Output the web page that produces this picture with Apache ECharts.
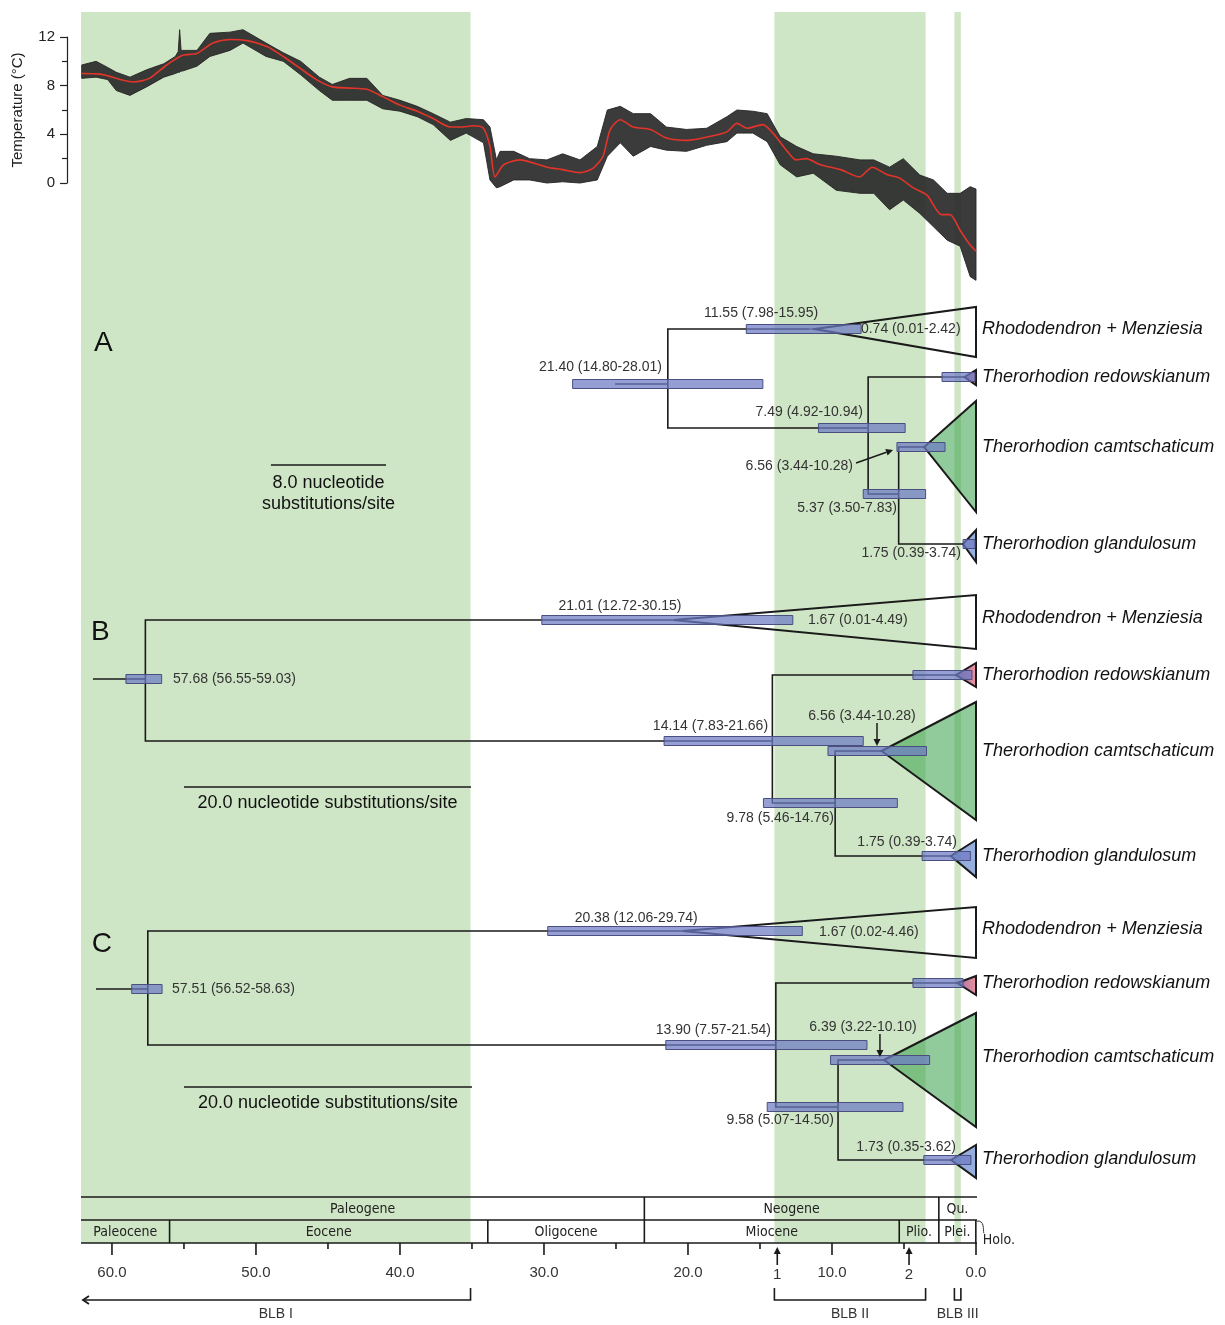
<!DOCTYPE html>
<html><head><meta charset="utf-8">
<script src="https://cdn.jsdelivr.net/npm/echarts@6/dist/echarts.min.js"></script>
<style>html,body{margin:0;padding:0;background:#fff}#c{width:1225px;height:1325px}</style>
</head><body><div id="c"></div>
<script>
// ---------------- DATA ----------------
const X_MAX = 62.15; // oldest age shown at left edge (Ma)

// temperature record: smoothed curve (red)
const tempAge = [62.1,60.8,58.5,57.4,56.2,55.1,54.1,53.0,51.8,50.6,49.2,48.1,46.9,45.8,44.7,43.5,42.3,41.2,40.0,38.8,37.7,36.5,35.8,34.9,34.2,33.75,33.4,32.8,31.7,29.8,28.7,27.5,26.6,25.9,25.4,24.7,23.8,22.6,21.5,20.1,18.2,17.3,16.6,15.9,14.8,14.1,13.1,12.5,11.8,10.8,9.4,8.1,7.2,6.2,5.3,4.35,3.4,2.4,1.8,1.1,0.4,0.0];
const tempVal = [9.0,8.95,8.3,8.6,9.7,10.5,10.65,11.5,11.8,11.7,11.2,10.4,9.4,8.5,7.9,7.8,7.7,7.1,6.4,5.9,5.3,4.6,4.6,4.7,4.5,3.0,0.5,1.5,1.9,1.3,1.1,0.85,1.2,2.2,4.4,5.2,4.6,4.4,3.7,3.5,3.9,4.2,4.9,4.5,4.8,4.1,2.6,1.9,2.0,1.5,1.1,0.5,1.3,0.7,0.4,-0.4,-1.0,-2.6,-2.6,-3.9,-5.1,-5.6];
// temperature record: spread of raw data points (black)
const envAge  = [62.1,61.1,60.3,59.7,58.75,57.6,56.4,55.6,55.4,55.3,55.2,55.1,54.1,53.2,51.8,50.9,49.3,48.1,46.9,45.6,44.7,43.5,42.3,41.2,40.0,38.8,37.7,36.5,35.4,34.2,33.75,33.3,33.05,32.1,31.0,29.8,28.7,27.5,26.3,25.6,24.7,23.8,22.6,21.5,20.1,18.7,17.3,16.6,15.5,14.5,13.6,12.45,11.3,9.7,8.05,7.1,6.0,5.05,3.9,2.95,2.0,1.1,0.4,0.0];
const envHigh = [9.7,10.0,9.5,9.1,8.7,9.3,9.8,10.4,10.8,12.6,10.9,10.9,10.9,12.3,12.4,12.6,11.5,10.7,10.0,8.7,8.1,8.6,8.6,7.2,6.8,6.3,5.7,5.0,5.3,5.2,4.6,1.9,2.6,2.6,2.0,1.9,2.4,1.9,3.0,6.0,6.3,5.7,5.7,4.6,4.4,4.5,5.45,6.0,5.9,5.7,3.8,3.0,2.4,2.2,1.9,1.9,1.3,2.0,0.65,0.25,-0.85,-0.85,-0.3,-0.5];
const envLow  = [8.6,8.7,8.5,7.6,7.2,7.9,8.7,9.0,9.1,9.1,9.2,9.2,9.6,10.4,10.9,11.5,10.4,10.0,8.9,7.6,6.8,6.8,6.8,6.1,5.9,5.45,4.8,3.5,4.1,3.3,0.25,-0.4,-0.3,0.25,0.25,0.0,0.1,0.0,0.25,2.2,3.3,2.2,3.0,2.7,2.6,3.1,3.4,4.1,4.1,3.4,1.5,0.5,0.8,-0.6,-0.85,-0.85,-2.2,-1.4,-2.5,-3.6,-4.7,-5.2,-7.7,-8.0];

// shaded intervals (BLB I, II, III)
const bandOld   = [62.15, 14.0, 1.5];
const bandYoung = [35.1, 3.5, 1.05];
const blbNames  = ['BLB I', 'BLB II', 'BLB III'];

const tipNames = ['Rhododendron + Menziesia', 'Therorhodion redowskianum', 'Therorhodion camtschaticum', 'Therorhodion glandulosum'];

// ---- Panel A ----
const A_nodeAge    = [25.07, 21.40, 11.55, 7.49, 0.80, 5.37, 3.60, 0.90];
const A_nodeRow    = [9.4, 9.4, 3.9, 13.8, 8.7, 20.4, 15.7, 25.4];
const A_nodeParent = [-1, 0, 1, 1, 3, 3, 5, 5];
const A_barLo  = [14.80, 7.98, 4.92, 3.50, 2.15, 0.07, 0.07];
const A_barHi  = [28.01, 15.95, 10.94, 7.83, 5.49, 2.36, 0.90];
const A_barRow = [9.4, 3.9, 13.8, 20.4, 15.7, 8.7, 25.4];
const A_apexAge = [11.2, 0.80, 3.60, 0.90];
const A_apexRow = [3.9, 8.7, 15.7, 25.4];
const A_cladeTop = [1.7, 8.0, 11.1, 24.0];
const A_cladeBot = [6.7, 9.5, 22.2, 27.2];
const A_tipRow = [3.9, 8.7, 15.7, 25.4];
const A_labelText  = ['11.55 (7.98-15.95)', '0.74 (0.01-2.42)', '21.40 (14.80-28.01)', '7.49 (4.92-10.94)', '6.56 (3.44-10.28)', '5.37 (3.50-7.83)', '1.75 (0.39-3.74)'];
const A_labelAge   = [14.93, 7.99, 21.81, 7.85, 8.54, 5.49, 1.04];
const A_labelRow   = [2.3, 3.9, 7.7, 12.2, 17.6, 21.8, 26.3];
const A_labelAlign = ['center', 'left', 'right', 'right', 'right', 'right', 'right'];
const A_arrow = [[8.33, 17.3, 5.76, 16.0]];
const A_scale = [48.96, 40.97, 17.5];
const A_scaleText = ['8.0 nucleotide', 'substitutions/site'];
const A_scaleTextRow = [19.3, 21.4];

// ---- Panel B ----
const B_nodeAge    = [61.32, 57.68, 21.01, 14.14, 1.39, 9.78, 6.56, 1.75];
const B_nodeRow    = [9.9, 9.9, 4.0, 16.1, 9.5, 22.3, 17.1, 27.6];
const B_nodeParent = [-1, 0, 1, 1, 3, 3, 5, 5];
const B_barLo  = [56.55, 12.72, 7.83, 5.46, 3.44, 0.39, 0.28];
const B_barHi  = [59.03, 30.15, 21.66, 14.76, 10.28, 3.74, 4.38];
const B_barRow = [9.9, 4.0, 16.1, 22.3, 17.1, 27.6, 9.5];
const B_apexAge = [21.01, 1.39, 6.56, 1.75];
const B_apexRow = [4.0, 9.5, 17.1, 27.6];
const B_cladeTop = [1.5, 8.3, 12.2, 26.0];
const B_cladeBot = [6.9, 10.7, 24.0, 29.7];
const B_tipRow = [3.8, 9.5, 17.1, 27.6];
const B_labelText  = ['21.01 (12.72-30.15)', '1.67 (0.01-4.49)', '57.68 (56.55-59.03)', '14.14 (7.83-21.66)', '6.56 (3.44-10.28)', '9.78 (5.46-14.76)', '1.75 (0.39-3.74)'];
const B_labelAge   = [24.72, 11.67, 55.76, 14.44, 7.92, 9.86, 1.32];
const B_labelRow   = [2.6, 4.0, 9.9, 14.6, 13.6, 23.8, 26.2];
const B_labelAlign = ['center', 'left', 'left', 'right', 'center', 'right', 'right'];
const B_arrow = [[6.875, 14.3, 6.875, 16.6]];
const B_scale = [55.0, 35.07, 20.7];
const B_scaleText = ['20.0 nucleotide substitutions/site'];
const B_scaleTextRow = [22.3];

// ---- Panel C ----
const C_nodeAge    = [61.11, 57.51, 20.38, 13.90, 1.30, 9.58, 6.39, 1.73];
const C_nodeRow    = [9.9, 9.9, 4.1, 15.5, 9.3, 21.7, 17.0, 27.0];
const C_nodeParent = [-1, 0, 1, 1, 3, 3, 5, 5];
const C_barLo  = [56.52, 12.06, 7.57, 5.07, 3.22, 0.35, 0.90];
const C_barHi  = [58.63, 29.74, 21.54, 14.50, 10.10, 3.62, 4.38];
const C_barRow = [9.9, 4.1, 15.5, 21.7, 17.0, 27.0, 9.3];
const C_apexAge = [20.38, 1.30, 6.39, 1.73];
const C_apexRow = [4.1, 9.3, 17.0, 27.0];
const C_cladeTop = [1.7, 8.6, 12.3, 25.5];
const C_cladeBot = [6.8, 10.5, 23.7, 28.8];
const C_tipRow = [3.9, 9.3, 16.7, 26.9];
const C_labelText  = ['20.38 (12.06-29.74)', '1.67 (0.02-4.46)', '57.51 (56.52-58.63)', '13.90 (7.57-21.54)', '6.39 (3.22-10.10)', '9.58 (5.07-14.50)', '1.73 (0.35-3.62)'];
const C_labelAge   = [23.6, 10.9, 55.83, 14.24, 7.85, 9.86, 1.39];
const C_labelRow   = [2.8, 4.2, 9.9, 14.0, 13.7, 23.0, 25.7];
const C_labelAlign = ['center', 'left', 'left', 'right', 'center', 'right', 'right'];
const C_arrow = [[6.67, 14.4, 6.67, 16.7]];
const C_scale = [55.0, 35.0, 19.7];
const C_scaleText = ['20.0 nucleotide substitutions/site'];
const C_scaleTextRow = [21.3];

const panelLetters = ['A', 'B', 'C'];
const panelLetterAge = [60.6, 60.8, 60.7];
const panelLetterRow = [5.3, 5.2, 5.4];

// geological time scale
const periodName  = ['Paleogene', 'Neogene', 'Qu.'];
const periodOld   = [66.0, 23.03, 2.58];
const periodYoung = [23.03, 2.58, 0.0];
const epochName  = ['Paleocene', 'Eocene', 'Oligocene', 'Miocene', 'Plio.', 'Plei.', 'Holo.'];
const epochOld   = [66.0, 56.0, 33.9, 23.03, 5.33, 2.58, 0.0117];
const epochYoung = [56.0, 33.9, 23.03, 5.33, 2.58, 0.0117, 0.0];
const majorTicks = [0, 10, 20, 30, 40, 50, 60];
const minorTicks = [5, 15, 25, 35, 45, 55];
const markerAge  = [13.8, 4.65];
const markerText = ['1', '2'];

// ---------------- STYLE ----------------
const SANS = '"Liberation Sans", Arial, sans-serif';
const NARROW = '"Liberation Sans Narrow", "DejaVu Sans Condensed", "Liberation Sans", sans-serif';
const BAND = '#cfe6c6';
const LINE = '#1a1a1a';
const BAR_FILL = 'rgba(108,122,196,0.72)';
const BAR_STROKE = '#4a4f80';
const cladeFill = [
  'rgba(0,0,0,0)',
  {type:'linear', x:0, y:0, x2:1, y2:0, colorStops:[{offset:0,color:'#9a6aa2'},{offset:1,color:'#ee95a0'}]},
  'rgba(56,160,72,0.55)',
  'rgba(80,120,200,0.6)'
];

// ---------------- BUILD ----------------
const L = 81, R = 1225 - 976;
const grids = [
  {left:L, right:R, top:37, height:146},   // 0 temperature
  {left:L, right:R, top:12, height:1231},  // 1 bands
  {left:L, right:R, top:290, height:290},  // 2 panel A
  {left:L, right:R, top:580, height:300},  // 3 panel B
  {left:L, right:R, top:890, height:300},  // 4 panel C
  {left:L, right:R, top:1197, height:46},  // 5 geologic scale
  {left:L, right:R, top:1243, height:82}   // 6 annotations
];
const yRanges = [[0,12],[0,1],[0,29],[0,30],[0,30],[0,2],[0,8.2]];

const xAxes = grids.map((g, i) => ({
  gridIndex: i, type: 'value', min: 0, max: X_MAX, inverse: true,
  show: i === 5,
  axisLine: {show:false}, axisTick: {show:false}, splitLine: {show:false},
  axisLabel: {
    show: i === 5, margin: 22, fontSize: 15, color: '#333', fontFamily: SANS,
    showMaxLabel: false,
    formatter: v => (Math.abs(v % 10) < 1e-6 ? v.toFixed(1) : '')
  }
}));
const yAxes = grids.map((g, i) => {
  if (i === 0) {
    return {
      gridIndex: 0, type: 'value', min: 0, max: 12, interval: 4, position: 'left', offset: 14,
      axisLine: {show: true, onZero: false, lineStyle: {color: '#222', width: 1.2}},
      axisTick: {show: true, length: 7, lineStyle: {color: '#222', width: 1.2}},
      minorTick: {show: true, splitNumber: 2, length: 5, lineStyle: {color: '#222', width: 1.2}},
      splitLine: {show: false},
      axisLabel: {fontSize: 15, color: '#222', margin: 12, fontFamily: SANS},
      name: 'Temperature (°C)', nameLocation: 'middle', nameRotate: 90, nameGap: 42,
      nameTextStyle: {fontSize: 15, color: '#222', fontFamily: SANS}
    };
  }
  return {gridIndex: i, type: 'value', min: yRanges[i][0], max: yRanges[i][1],
          inverse: i !== 1, show: false, splitLine: {show: false}};
});

function base(gi, z) {
  return {type: 'custom', coordinateSystem: 'cartesian2d', xAxisIndex: gi, yAxisIndex: gi,
          silent: true, clip: false, z: z, animation: false};
}
function txt(x, y, text, font, align, color) {
  return {type: 'text', x: x, y: y, style: {text: text, font: font, fill: color || '#333',
          align: align, verticalAlign: 'middle', textAlign: align, textVerticalAlign: 'middle'}};
}

const series = [];

// bands
series.push(Object.assign(base(1, 0), {
  data: bandOld.map((o, i) => [o, bandYoung[i]]),
  renderItem: (p, api) => {
    const a = api.coord([api.value(0), 1]), b = api.coord([api.value(1), 0]);
    return {type: 'rect', shape: {x: a[0], y: a[1], width: b[0] - a[0], height: b[1] - a[1]},
            style: {fill: BAND}};
  }
}));

// temperature spread
series.push(Object.assign(base(0, 2), {
  data: envAge.map((a, i) => [a, envHigh[i], envLow[i]]),
  renderItem: (p, api) => {
    if (p.dataIndex !== 0) return null;
    const pts = [];
    for (let i = 0; i < envAge.length; i++) pts.push(api.coord([envAge[i], envHigh[i]]));
    for (let i = envAge.length - 1; i >= 0; i--) pts.push(api.coord([envAge[i], envLow[i]]));
    return {type: 'polygon', shape: {points: pts},
            style: {fill: 'rgba(38,38,38,0.9)', stroke: 'rgba(38,38,38,0.9)', lineWidth: 1, lineJoin: 'round'}};
  }
}));
// temperature smooth curve
series.push({
  type: 'line', xAxisIndex: 0, yAxisIndex: 0, z: 3, clip: false, silent: true, animation: false,
  smooth: 0.25, showSymbol: false, symbol: 'none',
  data: tempAge.map((a, i) => [a, tempVal[i]]),
  lineStyle: {color: '#e3342a', width: 1.6}
});

// tree panels
function panel(gi, P, idx) {
  series.push(Object.assign(base(gi, 3), {
    data: P.apexAge.map((a, i) => [a, P.apexRow[i], P.top[i], P.bot[i], i]),
    renderItem: (p, api) => {
      const i = p.dataIndex;
      const a = api.coord([api.value(0), api.value(1)]);
      const t = api.coord([0, api.value(2)]), b = api.coord([0, api.value(3)]);
      return {type: 'polygon', shape: {points: [a, t, b]},
              style: {fill: cladeFill[i], stroke: LINE, lineWidth: 2, lineJoin: 'miter'}};
    }
  }));
  const edges = [];
  P.nodeAge.forEach((a, i) => {
    const q = P.parent[i];
    if (q >= 0) edges.push([a, P.nodeRow[i], P.nodeAge[q], P.nodeRow[q]]);
  });
  series.push(Object.assign(base(gi, 4), {
    data: edges,
    renderItem: (p, api) => {
      const c = api.value(0), cr = api.value(1), pa = api.value(2), pr = api.value(3);
      return {type: 'polyline', shape: {points: [api.coord([pa, pr]), api.coord([pa, cr]), api.coord([c, cr])]},
              style: {stroke: LINE, lineWidth: 1.6, fill: null}};
    }
  }));
  series.push(Object.assign(base(gi, 5), {
    data: P.barLo.map((lo, i) => [lo, P.barHi[i], P.barRow[i]]),
    renderItem: (p, api) => {
      const a = api.coord([api.value(1), api.value(2)]), b = api.coord([api.value(0), api.value(2)]);
      return {type: 'rect', shape: {x: a[0], y: a[1] - 4.5, width: b[0] - a[0], height: 9},
              style: {fill: BAR_FILL, stroke: BAR_STROKE, lineWidth: 1}};
    }
  }));
  series.push(Object.assign(base(gi, 6), {
    data: P.labelAge.map((a, i) => [a, P.labelRow[i]]),
    renderItem: (p, api) => {
      const c = api.coord([api.value(0), api.value(1)]);
      return txt(c[0], c[1], P.labelText[p.dataIndex], '14px ' + SANS, P.labelAlign[p.dataIndex], '#333');
    }
  }));
  series.push(Object.assign(base(gi, 6), {
    data: P.tipRow.map(r => [-0.42, r]),
    renderItem: (p, api) => {
      const c = api.coord([api.value(0), api.value(1)]);
      return txt(c[0], c[1], tipNames[p.dataIndex], 'italic 18px ' + SANS, 'left', '#111');
    }
  }));
  series.push(Object.assign(base(gi, 6), {
    data: P.arrow,
    renderItem: (p, api) => {
      const a = api.coord([api.value(0), api.value(1)]), b = api.coord([api.value(2), api.value(3)]);
      const dx = b[0] - a[0], dy = b[1] - a[1], len = Math.hypot(dx, dy);
      const ux = dx / len, uy = dy / len, h = 7, w = 3.5;
      const base0 = [b[0] - ux * h, b[1] - uy * h];
      return {type: 'group', children: [
        {type: 'line', shape: {x1: a[0], y1: a[1], x2: base0[0], y2: base0[1]}, style: {stroke: LINE, lineWidth: 1.5}},
        {type: 'polygon', shape: {points: [b, [base0[0] - uy * w, base0[1] + ux * w], [base0[0] + uy * w, base0[1] - ux * w]]},
         style: {fill: LINE}}
      ]};
    }
  }));
  series.push(Object.assign(base(gi, 6), {
    data: [P.scale],
    renderItem: (p, api) => {
      const a = api.coord([api.value(0), api.value(2)]), b = api.coord([api.value(1), api.value(2)]);
      const cx = (a[0] + b[0]) / 2;
      const kids = [{type: 'line', shape: {x1: a[0], y1: a[1], x2: b[0], y2: b[1]}, style: {stroke: LINE, lineWidth: 1.6}}];
      P.scaleText.forEach((t, k) => {
        const yy = api.coord([0, P.scaleTextRow[k]])[1];
        kids.push(txt(cx, yy, t, '18px ' + SANS, 'center', '#111'));
      });
      return {type: 'group', children: kids};
    }
  }));
  series.push(Object.assign(base(gi, 6), {
    data: [[panelLetterAge[idx], panelLetterRow[idx]]],
    renderItem: (p, api) => {
      const c = api.coord([api.value(0), api.value(1)]);
      return txt(c[0], c[1], panelLetters[idx], '28px ' + SANS, 'center', '#111');
    }
  }));
}

panel(2, {nodeAge: A_nodeAge, nodeRow: A_nodeRow, parent: A_nodeParent, barLo: A_barLo, barHi: A_barHi, barRow: A_barRow,
  apexAge: A_apexAge, apexRow: A_apexRow, top: A_cladeTop, bot: A_cladeBot, tipRow: A_tipRow,
  labelText: A_labelText, labelAge: A_labelAge, labelRow: A_labelRow, labelAlign: A_labelAlign,
  arrow: A_arrow, scale: A_scale, scaleText: A_scaleText, scaleTextRow: A_scaleTextRow}, 0);
panel(3, {nodeAge: B_nodeAge, nodeRow: B_nodeRow, parent: B_nodeParent, barLo: B_barLo, barHi: B_barHi, barRow: B_barRow,
  apexAge: B_apexAge, apexRow: B_apexRow, top: B_cladeTop, bot: B_cladeBot, tipRow: B_tipRow,
  labelText: B_labelText, labelAge: B_labelAge, labelRow: B_labelRow, labelAlign: B_labelAlign,
  arrow: B_arrow, scale: B_scale, scaleText: B_scaleText, scaleTextRow: B_scaleTextRow}, 1);
panel(4, {nodeAge: C_nodeAge, nodeRow: C_nodeRow, parent: C_nodeParent, barLo: C_barLo, barHi: C_barHi, barRow: C_barRow,
  apexAge: C_apexAge, apexRow: C_apexRow, top: C_cladeTop, bot: C_cladeBot, tipRow: C_tipRow,
  labelText: C_labelText, labelAge: C_labelAge, labelRow: C_labelRow, labelAlign: C_labelAlign,
  arrow: C_arrow, scale: C_scale, scaleText: C_scaleText, scaleTextRow: C_scaleTextRow}, 2);

// geologic time scale: horizontal rules
series.push(Object.assign(base(5, 4), {
  data: [[0, 0], [0, 1], [0, 2]],
  renderItem: (p, api) => {
    const a = api.coord([X_MAX, api.value(1)]), b = api.coord([0, api.value(1)]);
    return {type: 'line', shape: {x1: a[0], y1: a[1], x2: b[0] + 1, y2: b[1]}, style: {stroke: LINE, lineWidth: 1.6}};
  }
}));
function unitSeries(names, olds, youngs, row) {
  series.push(Object.assign(base(5, 4), {
    data: olds.map((o, i) => [o, youngs[i], row]),
    renderItem: (p, api) => {
      const i = p.dataIndex, o = api.value(0), y = api.value(1), r = api.value(2);
      const kids = [];
      if (o < X_MAX) {
        const a = api.coord([o, r]), b = api.coord([o, r + 1]);
        kids.push({type: 'line', shape: {x1: a[0], y1: a[1], x2: b[0], y2: b[1]}, style: {stroke: LINE, lineWidth: 1.6}});
      }
      const xl = api.coord([Math.min(o, X_MAX), r])[0], xr = api.coord([y, r])[0];
      if (xr - xl > 12) {
        const c = api.coord([(Math.min(o, X_MAX) + y) / 2, r + 0.5]);
        kids.push(txt(c[0], c[1] + 1, names[i], '14px ' + NARROW, 'center', '#222'));
      } else {
        const s = api.coord([o, r + 0.05]);
        kids.push({type: 'bezierCurve', shape: {x1: s[0] + 1, y1: s[1], cpx1: s[0] + 9, cpy1: s[1] - 1, cpx2: s[0] + 7, cpy2: s[1] + 8, x2: s[0] + 8, y2: s[1] + 12},
                   style: {stroke: '#333', lineWidth: 1, fill: null}});
        const t = api.coord([o, r + 0.87]);
        kids.push(txt(t[0] + 7, t[1], names[i], '14px ' + NARROW, 'left', '#222'));
      }
      return {type: 'group', children: kids};
    }
  }));
}
unitSeries(periodName, periodOld, periodYoung, 0);
unitSeries(epochName, epochOld, epochYoung, 1);

function tickSeries(vals, len) {
  series.push(Object.assign(base(5, 4), {
    data: vals.map(v => [v, 2]),
    renderItem: (p, api) => {
      const a = api.coord([api.value(0), 2]);
      return {type: 'line', shape: {x1: a[0], y1: a[1], x2: a[0], y2: a[1] + len}, style: {stroke: LINE, lineWidth: 1.6}};
    }
  }));
}
tickSeries(majorTicks, 12);
tickSeries(minorTicks, 6);

series.push(Object.assign(base(6, 5), {
  data: markerAge.map(a => [a, 0.4, 2.2, 2.95]),
  renderItem: (p, api) => {
    const top = api.coord([api.value(0), api.value(1)]), bot = api.coord([api.value(0), api.value(2)]);
    const lab = api.coord([api.value(0), api.value(3)]);
    return {type: 'group', children: [
      {type: 'line', shape: {x1: bot[0], y1: bot[1], x2: top[0], y2: top[1] + 5}, style: {stroke: LINE, lineWidth: 1.6}},
      {type: 'polygon', shape: {points: [top, [top[0] - 3.5, top[1] + 7], [top[0] + 3.5, top[1] + 7]]}, style: {fill: LINE}},
      txt(lab[0], lab[1] + 2, markerText[p.dataIndex], '15px ' + SANS, 'center', '#333')
    ]};
  }
}));

series.push(Object.assign(base(6, 5), {
  data: bandOld.map((o, i) => [o, bandYoung[i]]),
  renderItem: (p, api) => {
    const i = p.dataIndex, o = api.value(0), y = api.value(1);
    const rTop = 4.5, rBot = 5.7;
    const kids = [];
    if (i === 0) {
      const yt = api.coord([y, rTop]), yb = api.coord([y, rBot]);
      const left = api.coord([X_MAX, rBot]);
      kids.push({type: 'polyline', shape: {points: [yt, yb, [left[0] + 3, left[1]]]}, style: {stroke: LINE, lineWidth: 1.6, fill: null}});
      kids.push({type: 'polyline', shape: {points: [[left[0] + 8, left[1] - 4], [left[0] + 2, left[1]], [left[0] + 8, left[1] + 4]]},
                 style: {stroke: LINE, lineWidth: 1.8, fill: null}});
    } else {
      kids.push({type: 'polyline', shape: {points: [api.coord([o, rTop]), api.coord([o, rBot]), api.coord([y, rBot]), api.coord([y, rTop])]},
                 style: {stroke: LINE, lineWidth: 1.6, fill: null}});
    }
    const c = api.coord([(Math.min(o, X_MAX) + y) / 2, 7.1]);
    kids.push(txt(c[0], c[1], blbNames[i], '14px ' + SANS, 'center', '#333'));
    return {type: 'group', children: kids};
  }
}));

const chart = echarts.init(document.getElementById('c'), null, {renderer: 'canvas'});
chart.setOption({
  backgroundColor: '#ffffff',
  animation: false,
  grid: grids,
  xAxis: xAxes,
  yAxis: yAxes,
  series: series
});
</script></body></html>
